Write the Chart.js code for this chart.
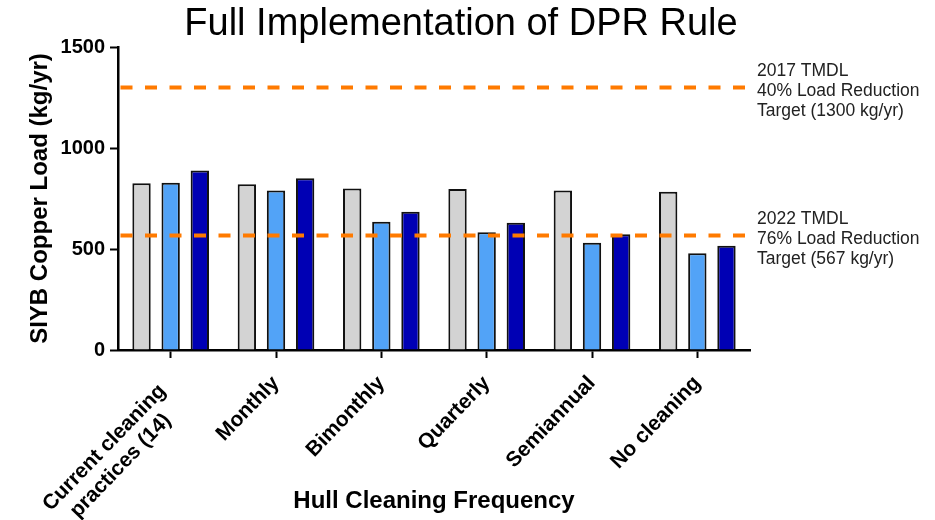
<!DOCTYPE html>
<html><head><meta charset="utf-8">
<script src="https://cdn.jsdelivr.net/npm/chart.js@4/dist/chart.umd.min.js"></script>
<style>html,body{margin:0;padding:0;background:#fff}#wrap{width:935px;height:520px}</style>
</head><body><div id="wrap"><canvas id="c" width="935" height="520"></canvas></div>
<script>
const chartTitle = 'Full Implementation of DPR Rule';
const categories = [['Current cleaning  ', 'practices (14)     '], 'Monthly', 'Bimonthly', 'Quarterly', 'Semiannual', 'No cleaning'];
const seriesNames = ['Series A', 'Series B', 'Series C'];
const seriesGray = [825, 820, 800, 797, 789, 784];
const seriesLightBlue = [828, 789, 635, 583, 531, 479];
const seriesDarkBlue = [888, 850, 685, 630, 573, 516];
const yTicks = [0, 500, 1000, 1500];
const yAxisTitle = 'SIYB Copper Load (kg/yr)';
const xAxisTitle = 'Hull Cleaning Frequency';
const targetValues = [1300, 567];
const targetLabels = [
  ['2017 TMDL', '40% Load Reduction', 'Target (1300 kg/yr)'],
  ['2022 TMDL', '76% Load Reduction', 'Target (567 kg/yr)']
];

const FONT = '"Liberation Sans", Arial, Helvetica, sans-serif';

const overlay = {
  id: 'overlay',
  afterDatasetsDraw(chart) {
    const {ctx, chartArea, scales: {y}} = chart;
    ctx.save();
    ctx.strokeStyle = '#ff7a00';
    ctx.lineWidth = 4;
    ctx.setLineDash([12, 12.5]);
    targetValues.forEach(v => {
      const py = y.getPixelForValue(v);
      ctx.beginPath();
      ctx.moveTo(chartArea.left + 2.5, py);
      ctx.lineTo(chartArea.right - 3, py);
      ctx.stroke();
    });
    ctx.restore();
  },
  afterDraw(chart) {
    const {ctx, scales: {y}} = chart;
    ctx.save();
    ctx.fillStyle = '#000';
    ctx.font = '38px ' + FONT;
    ctx.textAlign = 'center';
    ctx.textBaseline = 'middle';
    ctx.fillText(chartTitle, 461, 25);
    ctx.fillStyle = '#222';
    ctx.font = '17.5px ' + FONT;
    ctx.textAlign = 'left';
    targetValues.forEach((v, i) => {
      const py = y.getPixelForValue(v);
      targetLabels[i].forEach((t, j) => {
        ctx.fillText(t, 757, py - 16 + j * 20);
      });
    });
    ctx.restore();
  }
};

const borderCol = '#111';
new Chart(document.getElementById('c'), {
  type: 'bar',
  data: {
    labels: categories,
    datasets: [
      {label: seriesNames[0], data: seriesGray, backgroundColor: '#d3d3d3', borderColor: borderCol, borderWidth: 2},
      {label: seriesNames[1], data: seriesLightBlue, backgroundColor: '#52a3f7', borderColor: borderCol, borderWidth: 2},
      {label: seriesNames[2], data: seriesDarkBlue, backgroundColor: '#0000b4', borderColor: borderCol, borderWidth: 2}
    ]
  },
  options: {
    responsive: false,
    animation: false,
    devicePixelRatio: 1,
    layout: {padding: {left: 0, right: 185, top: 47, bottom: 0}},
    datasets: {bar: {categoryPercentage: 0.83, barPercentage: 0.63}},
    plugins: {legend: {display: false}, tooltip: {enabled: false}, title: {display: false}},
    scales: {
      x: {
        afterFit(s) { s.height = 170; },
        border: {display: true, color: '#000', width: 2.5},
        grid: {display: true, drawOnChartArea: false, drawTicks: true, tickLength: 8, tickWidth: 2, tickColor: '#000', offset: false},
        ticks: {autoSkip: false, minRotation: 46, maxRotation: 46, padding: 13, color: '#000',
          font: c => ({family: FONT, size: 21, weight: 'bold', lineHeight: c.index === 0 ? 1.15 : 1.2})},
        title: {display: true, text: xAxisTitle, color: '#000', font: {family: FONT, size: 24, weight: 'bold'}, padding: {top: 0, bottom: 4}}
      },
      y: {
        min: 0, max: 1500,
        afterFit(s) { s.width = 118; },
        afterBuildTicks(s) { s.ticks = yTicks.map(v => ({value: v})); },
        border: {display: true, color: '#000', width: 2.5},
        grid: {display: true, drawOnChartArea: false, drawTicks: true, tickLength: 8, tickWidth: 2, tickColor: '#000'},
        ticks: {padding: 5, color: '#000', font: {family: FONT, size: 20, weight: 'bold'}, callback: v => String(v)},
        title: {display: true, text: yAxisTitle, color: '#000', font: {family: FONT, size: 24, weight: 'bold'}, padding: {top: 26, bottom: 0}}
      }
    }
  },
  plugins: [overlay]
});
</script>
</body></html>
